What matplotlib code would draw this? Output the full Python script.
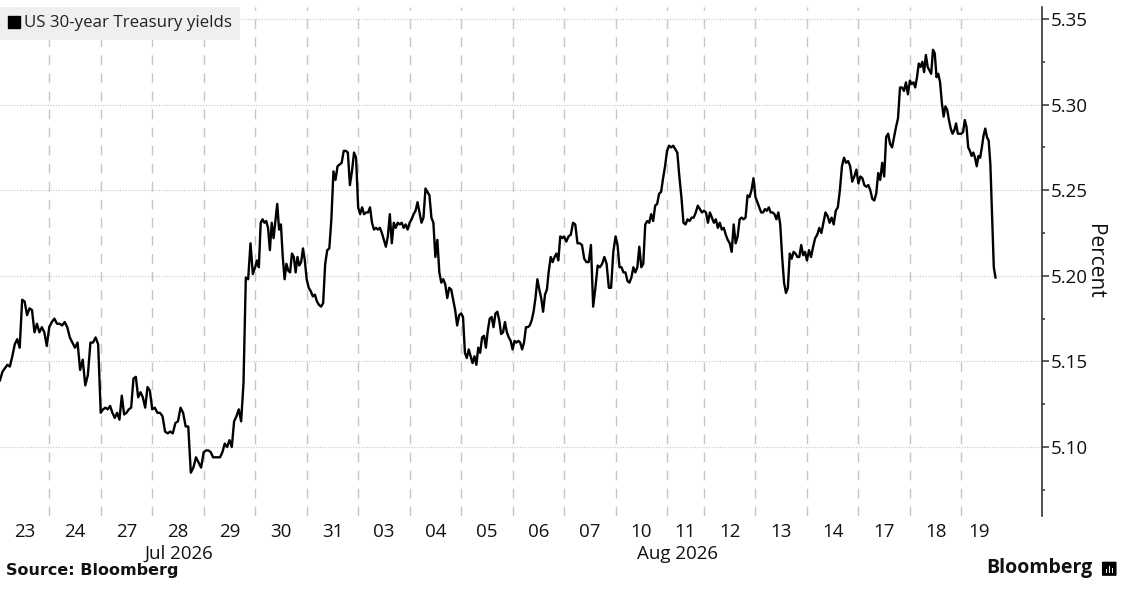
import numpy as np
import matplotlib
matplotlib.use("Agg")
import matplotlib.pyplot as plt
from matplotlib.lines import Line2D
from matplotlib.patches import FancyBboxPatch
from matplotlib.ticker import MultipleLocator, FormatStrFormatter

# trading sessions shown on the chart (Bloomberg compresses non-trading time)
DAY_LABELS = ["23", "24", "27", "28", "29", "30", "31",
              "03", "04", "05", "06", "07", "10", "11", "12", "13", "14", "17", "18", "19"]
MONTHS = ["Jul 2026"] * 7 + ["Aug 2026"] * 13
SESSION_HOURS = [22, 23, 23, 23, 23, 23, 23, 23, 23, 23,
                 23, 23, 23, 16.5, 23, 23, 23, 23, 23, 16]

# US 30-year yield (%), intraday readings per session
jul23 = [5.139, 5.144, 5.146, 5.148, 5.147, 5.153, 5.160, 5.163, 5.158, 5.186,
         5.185, 5.177, 5.181, 5.180, 5.167, 5.172, 5.167, 5.170, 5.167, 5.159]
jul24 = [5.170, 5.173, 5.175, 5.172, 5.172, 5.171, 5.173, 5.170, 5.164, 5.161,
         5.158, 5.161, 5.145, 5.151, 5.136, 5.142, 5.161, 5.161, 5.164, 5.160]
jul27 = [5.120, 5.122, 5.123, 5.122, 5.124, 5.120, 5.117, 5.120, 5.116, 5.130,
         5.119, 5.120, 5.122, 5.123, 5.140, 5.141, 5.129, 5.132, 5.129, 5.123,
         5.135, 5.133]
jul28 = [5.122, 5.123, 5.120, 5.120, 5.118, 5.109, 5.108, 5.109, 5.108, 5.114,
         5.115, 5.123, 5.120, 5.112, 5.112, 5.085, 5.088, 5.094, 5.091, 5.088]
jul29 = [5.097, 5.098, 5.098, 5.097, 5.094, 5.094, 5.094, 5.094, 5.097, 5.102,
         5.100, 5.104, 5.100, 5.115, 5.118, 5.122, 5.115, 5.137, 5.199, 5.198,
         5.219, 5.201]
jul30 = [5.205, 5.209, 5.205, 5.231, 5.233, 5.231, 5.232, 5.228, 5.215, 5.231,
         5.222, 5.232, 5.242, 5.227, 5.230, 5.211, 5.198, 5.207, 5.203, 5.202,
         5.213, 5.211, 5.202, 5.211, 5.206, 5.208, 5.216, 5.209]
jul31 = [5.198, 5.193, 5.191, 5.188, 5.189, 5.185, 5.183, 5.182, 5.184, 5.207,
         5.215, 5.216, 5.233, 5.261, 5.256, 5.264, 5.265, 5.266, 5.273, 5.273,
         5.272, 5.253, 5.261, 5.272, 5.269]
aug03 = [5.240, 5.236, 5.240, 5.236, 5.237, 5.237, 5.240, 5.231, 5.227, 5.228,
         5.227, 5.228, 5.225, 5.221, 5.217, 5.223, 5.236, 5.219, 5.231, 5.228,
         5.231, 5.230, 5.231, 5.228, 5.230, 5.227]
aug04 = [5.231, 5.233, 5.236, 5.238, 5.243, 5.237, 5.231, 5.234, 5.251, 5.249,
         5.247, 5.234, 5.231, 5.211, 5.221, 5.202, 5.196, 5.198, 5.195, 5.187,
         5.193, 5.192, 5.186, 5.180, 5.171, 5.177]
aug05 = [5.178, 5.176, 5.155, 5.152, 5.157, 5.153, 5.149, 5.153, 5.148, 5.158,
         5.155, 5.164, 5.165, 5.158, 5.168, 5.175, 5.176, 5.170, 5.178, 5.179,
         5.174, 5.166, 5.167, 5.173, 5.167, 5.164, 5.162]
aug06 = [5.157, 5.162, 5.161, 5.162, 5.161, 5.157, 5.161, 5.170, 5.170, 5.171,
         5.174, 5.179, 5.187, 5.198, 5.192, 5.187, 5.179, 5.189, 5.192, 5.203,
         5.211, 5.208, 5.211, 5.213, 5.209, 5.223, 5.222]
aug07 = [5.223, 5.220, 5.223, 5.224, 5.231, 5.230, 5.219, 5.219, 5.218, 5.210,
         5.208, 5.208, 5.218, 5.182, 5.193, 5.206, 5.205, 5.207, 5.211, 5.207,
         5.193, 5.193, 5.214]
aug10 = [5.223, 5.218, 5.205, 5.205, 5.202, 5.202, 5.197, 5.196, 5.199, 5.205,
         5.202, 5.205, 5.217, 5.205, 5.207, 5.230, 5.232, 5.231, 5.236, 5.232,
         5.241, 5.242, 5.248, 5.249, 5.257, 5.264]
aug11 = [5.273, 5.276, 5.275, 5.276, 5.274, 5.272, 5.258, 5.246, 5.231, 5.230,
         5.233, 5.232, 5.234, 5.234, 5.237, 5.241, 5.239, 5.237]
aug12 = [5.238, 5.237, 5.231, 5.237, 5.234, 5.231, 5.233, 5.228, 5.231, 5.227,
         5.228, 5.224, 5.221, 5.219, 5.214, 5.230, 5.219, 5.223, 5.233, 5.234,
         5.233, 5.234, 5.247, 5.246, 5.250, 5.257]
aug13 = [5.246, 5.243, 5.240, 5.237, 5.237, 5.239, 5.238, 5.240, 5.237, 5.237,
         5.236, 5.233, 5.237, 5.230, 5.211, 5.196, 5.190, 5.193, 5.213, 5.210,
         5.214, 5.213, 5.211, 5.211, 5.218, 5.212, 5.214]
aug14 = [5.209, 5.215, 5.211, 5.217, 5.222, 5.224, 5.228, 5.225, 5.231, 5.237,
         5.235, 5.231, 5.234, 5.230, 5.238, 5.240, 5.250, 5.264, 5.269, 5.266,
         5.267, 5.264, 5.255, 5.258, 5.262]
aug17 = [5.254, 5.258, 5.257, 5.253, 5.252, 5.253, 5.250, 5.245, 5.244, 5.248,
         5.260, 5.256, 5.266, 5.258, 5.281, 5.283, 5.277, 5.275, 5.281, 5.287,
         5.292, 5.310, 5.310, 5.308, 5.313, 5.306]
aug18 = [5.314, 5.312, 5.313, 5.310, 5.316, 5.324, 5.322, 5.325, 5.319, 5.329,
         5.322, 5.320, 5.318, 5.332, 5.330, 5.316, 5.318, 5.313, 5.301, 5.293,
         5.299, 5.297, 5.291, 5.286, 5.283, 5.285, 5.289, 5.283, 5.283]
aug19 = [5.283, 5.284, 5.291, 5.287, 5.275, 5.273, 5.270, 5.272, 5.269, 5.264,
         5.270, 5.269, 5.275, 5.282, 5.286, 5.281, 5.279, 5.265, 5.234, 5.205,
         5.199]

SESSIONS = [jul23, jul24, jul27, jul28, jul29, jul30, jul31, aug03, aug04, aug05,
            aug06, aug07, aug10, aug11, aug12, aug13, aug14, aug17, aug18, aug19]

plt.rcParams["font.family"] = ["Open Sans", "DejaVu Sans"]

# x in trading hours since the first session
bounds = np.concatenate([[0], np.cumsum(SESSION_HOURS)])
xs, ys = [], []
for start, hrs, vals in zip(bounds[:-1], SESSION_HOURS, SESSIONS):
    xs.extend(start + np.arange(len(vals)) * hrs / len(vals))
    ys.extend(vals)
centers = (bounds[:-1] + bounds[1:]) / 2

fig = plt.figure(figsize=(11.21, 5.90), dpi=100)
ax = fig.add_axes([0.0, 0.1254, 0.9295, 0.8627])

ax.plot(xs, ys, color="black", lw=1.7, zorder=3)

# session separators
for b in bounds[1:-1]:
    ax.axvline(b, color="#c6c6c6", lw=1.0, ls=(0, (7, 6)), zorder=1)

ax.set_xlim(0, bounds[-1] + 20)
ax.set_ylim(5.0597, 5.357)

ax.yaxis.tick_right()
ax.yaxis.set_major_locator(MultipleLocator(0.05))
ax.yaxis.set_minor_locator(MultipleLocator(0.025))
ax.yaxis.set_major_formatter(FormatStrFormatter("%.2f"))
ax.yaxis.grid(True, which="major", color="#c4c4c4", lw=0.8, ls=(0, (1, 1.5)), zorder=0)
ax.tick_params(axis="y", which="major", length=5, width=1.1, color="#333333",
               pad=1, labelsize=13.5, labelcolor="#111111")
ax.tick_params(axis="y", which="minor", length=2, width=1.1, color="#333333")

ax.set_xticks(centers)
ax.set_xticklabels(DAY_LABELS)
month_names = list(dict.fromkeys(MONTHS))
month_centers = []
for m in month_names:
    idx = [i for i, mm in enumerate(MONTHS) if mm == m]
    month_centers.append((bounds[idx[0]] + bounds[idx[-1] + 1]) / 2)
ax.set_xticks(month_centers, minor=True)
ax.set_xticklabels(month_names, minor=True)
ax.tick_params(axis="x", which="major", length=0, pad=5, labelsize=13.5, labelcolor="#111111")
ax.tick_params(axis="x", which="minor", length=0, pad=21, labelsize=13.5, labelcolor="#111111")

for side in ["top", "left", "bottom"]:
    ax.spines[side].set_visible(False)
ax.spines["right"].set_color("#333333")
ax.spines["right"].set_linewidth(1.2)

ax.set_ylabel("Percent", rotation=270, va="center", ha="center", fontsize=15, color="#111111")
ax.yaxis.set_label_position("right")
ax.yaxis.set_label_coords(1.0605, 0.5)

handle = Line2D([], [], marker="s", color="black", ls="none", markersize=8)
leg = ax.legend([handle], ["US 30-year Treasury yields"], loc="upper left",
                bbox_to_anchor=(0, 1), borderaxespad=0, frameon=True, fancybox=False,
                facecolor="#efefef", edgecolor="none", framealpha=1, fontsize=12.2,
                handlelength=0.7, handletextpad=0.2, borderpad=0.5)
leg.set_zorder(5)
for t in leg.get_texts():
    t.set_color("#222222")

fig.text(0.005, 0.02, "Source: Bloomberg", fontsize=11.5, fontweight="bold",
         family="DejaVu Sans", ha="left", va="bottom", color="#111111")
fig.text(0.975, 0.02, "Bloomberg", fontsize=14, fontweight="bold",
         ha="right", va="bottom", color="#111111")
icon = FancyBboxPatch((0.984, 0.025), 0.011, 0.022, boxstyle="round,pad=0.001",
                      transform=fig.transFigure, facecolor="black", edgecolor="none")
fig.patches.append(icon)
for i, h in enumerate([0.006, 0.012, 0.009]):
    fig.patches.append(plt.Rectangle((0.9863 + i * 0.0028, 0.029), 0.0013, h,
                                     transform=fig.transFigure, facecolor="white",
                                     edgecolor="none"))

fig.savefig("out.png", dpi=100, facecolor="white")
